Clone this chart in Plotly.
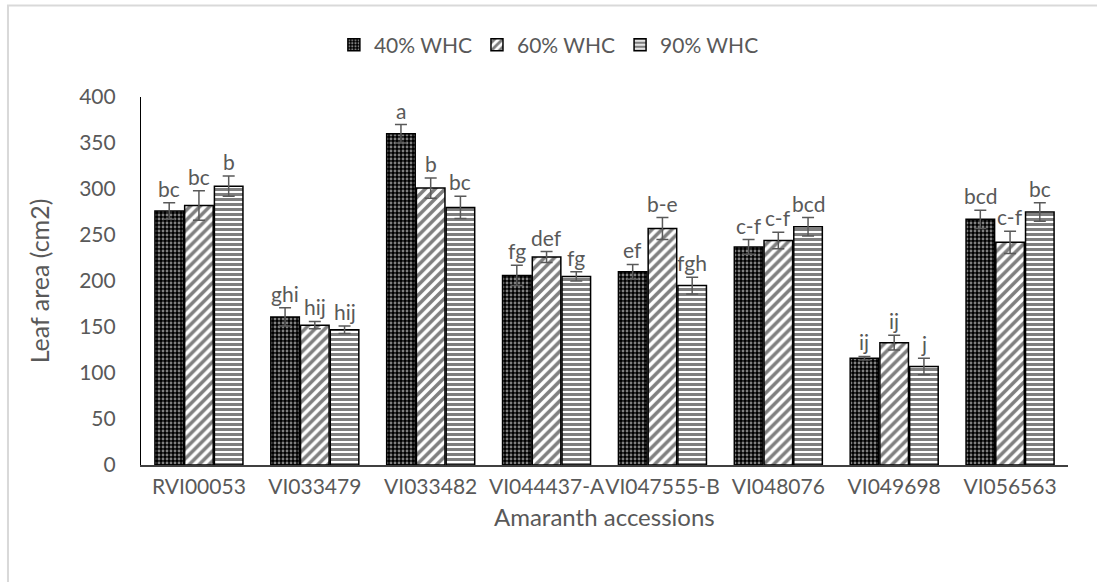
import plotly.graph_objects as go

accessions = ["RVI00053", "VI033479", "VI033482", "VI044437-A", "VI047555-B",
              "VI048076", "VI049698", "VI056563"]
series_names = ["40% WHC", "60% WHC", "90% WHC"]

whc40 = [276, 161, 360, 206, 210, 237, 116, 267]
whc60 = [282, 152, 301, 226, 257, 244, 133, 242]
whc90 = [303, 147, 280, 205, 195, 259, 107, 275]

err40 = [9, 10, 10, 11, 8, 8, 2, 10]
err60 = [16, 4, 11, 6, 12, 9, 8, 12]
err90 = [11, 4, 12, 5, 9, 10, 9, 10]

letters40 = ["bc", "ghi", "a", "fg", "ef", "c-f", "ij", "bcd"]
letters60 = ["bc", "hij", "b", "def", "b-e", "c-f", "ij", "c-f"]
letters90 = ["b", "hij", "bc", "fg", "fgh", "bcd", "j", "bc"]

values = [whc40, whc60, whc90]
errors = [err40, err60, err90]
letters = [letters40, letters60, letters90]

GREY = "#595959"
FONT = "Lato"
BARGAP = 0.23

patterns = [
    dict(shape=".", bgcolor="black", fgcolor="white", size=4, solidity=0.4),
    dict(shape="/", bgcolor="white", fgcolor="black", size=7, solidity=0.5),
    dict(shape="-", bgcolor="white", fgcolor="black", size=5, solidity=0.6),
]

fig = go.Figure()
for name, vals, errs, pat in zip(series_names, values, errors, patterns):
    fig.add_trace(go.Bar(
        x=accessions, y=vals, name=name,
        marker=dict(color="white", pattern=pat, line=dict(color="black", width=1.5)),
        error_y=dict(type="data", array=errs, visible=True, color=GREY,
                     thickness=1.5, width=6),
    ))

# significance letters above each error bar
step = (1 - BARGAP) / 3
for k in range(3):
    for i in range(len(accessions)):
        fig.add_annotation(
            x=i + (k - 1) * step, y=values[k][i] + errors[k][i],
            xref="x", yref="y", text=letters[k][i], showarrow=False,
            yanchor="bottom", yshift=0,
            font=dict(family=FONT, size=21, color=GREY),
        )

# x-axis title, set close under the tick labels
fig.add_annotation(text="Amaranth accessions", xref="paper", yref="paper",
                   x=0.5, y=-0.1386, xanchor="center", yanchor="middle",
                   showarrow=False, font=dict(family=FONT, size=24, color=GREY))

# light chart frame
fig.add_shape(type="rect", xref="paper", yref="paper",
              x0=-0.1435, x1=1.1, y0=-0.4, y1=1.2486,
              line=dict(color="#d9d9d9", width=2), fillcolor="rgba(0,0,0,0)",
              layer="below")

fig.update_layout(
    width=1097, height=582,
    margin=dict(l=141, r=29, t=97, b=117),
    paper_bgcolor="white", plot_bgcolor="white",
    barmode="group", bargap=BARGAP, bargroupgap=0.04,
    font=dict(family=FONT, size=21, color=GREY),
    showlegend=True,
    legend=dict(orientation="h", x=0.44, xanchor="center", y=1.141, yanchor="middle",
                bgcolor="rgba(0,0,0,0)",
                font=dict(family=FONT, size=21, color=GREY),
                itemwidth=30, traceorder="normal"),
    xaxis=dict(showline=True, linecolor="#404040", linewidth=1.5, ticks="",
               showgrid=False, ticklabelstandoff=2, tickangle=0, automargin=False,
               tickfont=dict(family=FONT, size=21, color=GREY)),
    yaxis=dict(range=[0, 400], dtick=50, showline=True, linecolor="black",
               linewidth=1.2, ticks="", showgrid=False, zeroline=False,
               ticklabelstandoff=20, automargin=False,
               tickfont=dict(family=FONT, size=21, color=GREY),
               title=dict(text="Leaf area (cm2)", standoff=22,
                          font=dict(family=FONT, size=25, color=GREY))),
)

fig.write_html("out.html")
